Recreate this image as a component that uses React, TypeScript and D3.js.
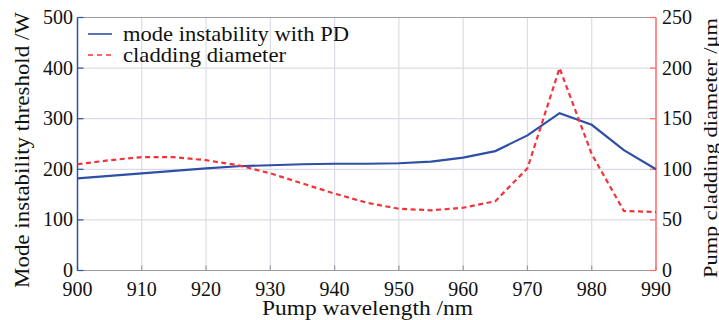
import React from "react";
import * as d3 from "d3";

const wavelengths = [900, 905, 910, 915, 920, 925, 930, 935, 940, 945, 950, 955, 960, 965, 970, 975, 980, 985, 990];
const miThreshold = [182, 187, 192, 197, 202, 206, 208, 210, 211, 211, 212, 215, 223, 236, 267, 311, 288, 238, 200];
const claddingDiameter = [105, 109, 112, 112, 109, 104, 96, 86, 76, 67, 61, 59.5, 62, 68.5, 101, 200, 115, 58.8, 57.8];
const xTicks = [900, 910, 920, 930, 940, 950, 960, 970, 980, 990];
const leftTicks = [0, 100, 200, 300, 400, 500];
const rightTicks = [0, 50, 100, 150, 200, 250];
const seriesNames = ["mode instability with PD", "cladding diameter"];

const W = 719, H = 320;
const M = { left: 77.5, right: 656, top: 17.5, bottom: 270.5 };
const FONT = "'Liberation Serif', 'Times New Roman', serif";
const BLUE = "#2f4fa6";
const RED = "#f2333a";

export default function App() {
  const x = d3.scaleLinear().domain([900, 990]).range([M.left, M.right]);
  const yL = d3.scaleLinear().domain([0, 500]).range([M.bottom, M.top]);
  const yR = d3.scaleLinear().domain([0, 250]).range([M.bottom, M.top]);
  const lineL = d3.line<number>().x((_, i) => x(wavelengths[i])).y((d) => yL(d));
  const lineR = d3.line<number>().x((_, i) => x(wavelengths[i])).y((d) => yR(d));

  return (
    <svg width={W} height={H} style={{ position: "absolute", left: 0, top: 0, background: "#fff" }} fontFamily={FONT}>
      {/* grid */}
      {xTicks.slice(1, -1).map((t) => (
        <line key={"gx" + t} x1={x(t)} x2={x(t)} y1={M.top} y2={M.bottom} stroke="#dcdce6" strokeWidth={1.2} />
      ))}
      {leftTicks.slice(1, -1).map((t) => (
        <line key={"gy" + t} x1={M.left} x2={M.right} y1={yL(t)} y2={yL(t)} stroke="#dcdce6" strokeWidth={1.2} />
      ))}
      {/* frame */}
      <line x1={M.left} x2={M.right} y1={M.top} y2={M.top} stroke="#9a9aa0" strokeWidth={1.2} />
      <line x1={M.left} x2={M.right} y1={M.bottom} y2={M.bottom} stroke="#9a9aa0" strokeWidth={1.2} />
      {/* x ticks */}
      {xTicks.map((t) => (
        <g key={"xt" + t}>
          <line x1={x(t)} x2={x(t)} y1={M.bottom} y2={M.bottom - 5} stroke="#9a9aa0" strokeWidth={1.2} />
          <text x={x(t)} y={295.5} textAnchor="middle" fontSize={20} fill="#111">{t}</text>
        </g>
      ))}
      {/* left axis */}
      <line x1={M.left} x2={M.left} y1={M.top} y2={M.bottom} stroke={BLUE} strokeWidth={1.5} />
      {leftTicks.map((t) => (
        <g key={"lt" + t}>
          <line x1={M.left} x2={M.left + 6} y1={yL(t)} y2={yL(t)} stroke={BLUE} strokeWidth={1.2} />
          <text x={73} y={yL(t) + 6.5} textAnchor="end" fontSize={20} fill="#111">{t}</text>
        </g>
      ))}
      {/* right axis */}
      <line x1={M.right} x2={M.right} y1={M.top} y2={M.bottom} stroke="#ff6a6a" strokeWidth={1.5} />
      {rightTicks.map((t) => (
        <g key={"rt" + t}>
          <line x1={M.right} x2={M.right - 6} y1={yR(t)} y2={yR(t)} stroke="#ff6a6a" strokeWidth={1.2} />
          <text x={662} y={yR(t) + 6.5} textAnchor="start" fontSize={20} fill="#111">{t}</text>
        </g>
      ))}
      {/* series */}
      <path d={lineL(miThreshold) || ""} fill="none" stroke={BLUE} strokeWidth={2.2} />
      <path d={lineR(claddingDiameter) || ""} fill="none" stroke={RED} strokeWidth={2.2} strokeDasharray="5,3.5" />
      {/* legend */}
      <line x1={88} x2={112} y1={34} y2={34} stroke={BLUE} strokeWidth={1.6} />
      <text x={123} y={40.5} fontSize={21} textLength={226} lengthAdjust="spacingAndGlyphs" fill="#111">{seriesNames[0]}</text>
      <line x1={88} x2={112} y1={55} y2={55} stroke={RED} strokeWidth={1.6} strokeDasharray="5,4" />
      <text x={123} y={61.5} fontSize={21} textLength={163} lengthAdjust="spacingAndGlyphs" fill="#111">{seriesNames[1]}</text>
      {/* axis titles */}
      <text x={367.5} y={315} textAnchor="middle" fontSize={21} textLength={211} lengthAdjust="spacingAndGlyphs" fill="#111">Pump wavelength /nm</text>
      <text transform={`translate(29,150) rotate(-90)`} textAnchor="middle" fontSize={22} textLength={276} lengthAdjust="spacingAndGlyphs" fill="#111">Mode instability threshold /W</text>
      <text transform={`translate(716.5,148) rotate(-90)`} textAnchor="middle" fontSize={18} textLength={260} lengthAdjust="spacingAndGlyphs" fill="#111">Pump cladding diameter /μm</text>
    </svg>
  );
}
